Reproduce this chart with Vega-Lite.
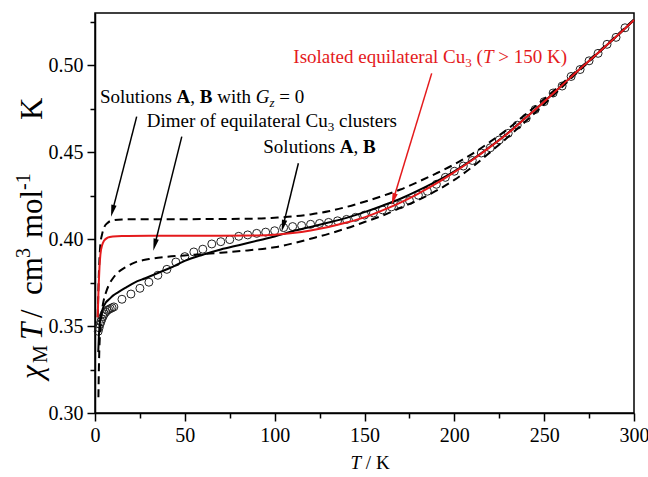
{
  "$schema": "https://vega.github.io/schema/vega-lite/v6.json",
  "width": 539,
  "height": 400,
  "autosize": "none",
  "padding": {"left": 95, "top": 13, "right": 14, "bottom": 64},
  "config": {
    "view": {"stroke": "black", "strokeWidth": 1.5},
    "font": "Liberation Serif",
    "axis": {"grid": false, "domainColor": "black", "domainWidth": 1.5, "tickColor": "black", "tickWidth": 1.5, "labelFont": "Liberation Serif", "labelFontSize": 20, "labelColor": "black", "labelOverlap": false, "labelFlush": false, "labelBound": false, "title": null}
  },
  "datasets": {
    "exp": [
      {"T": 1.8, "chi": 0.347}, {"T": 2.3, "chi": 0.349}, {"T": 2.8, "chi": 0.351}, {"T": 3.3, "chi": 0.3525}, {"T": 3.8, "chi": 0.354}, {"T": 4.5, "chi": 0.3555}, {"T": 5.2, "chi": 0.357}, {"T": 6.0, "chi": 0.358}, {"T": 6.8, "chi": 0.359}, {"T": 7.6, "chi": 0.3595}, {"T": 8.5, "chi": 0.36}, {"T": 9.5, "chi": 0.3605}, {"T": 10.5, "chi": 0.361},
      {"T": 15, "chi": 0.3654}, {"T": 20, "chi": 0.3684}, {"T": 25, "chi": 0.3717}, {"T": 30, "chi": 0.3752}, {"T": 35, "chi": 0.3792}, {"T": 40, "chi": 0.3826}, {"T": 45, "chi": 0.3868}, {"T": 50, "chi": 0.3899}, {"T": 55, "chi": 0.3926}, {"T": 60, "chi": 0.3942}, {"T": 65, "chi": 0.3972}, {"T": 70, "chi": 0.3985}, {"T": 75, "chi": 0.3997}, {"T": 80, "chi": 0.4016}, {"T": 85, "chi": 0.4024}, {"T": 90, "chi": 0.4033}, {"T": 95, "chi": 0.404}, {"T": 100, "chi": 0.4048},
      {"T": 105, "chi": 0.4066}, {"T": 110, "chi": 0.4072}, {"T": 115, "chi": 0.4078}, {"T": 120, "chi": 0.4085}, {"T": 125, "chi": 0.409}, {"T": 130, "chi": 0.4096}, {"T": 135, "chi": 0.4105}, {"T": 140, "chi": 0.4113}, {"T": 145, "chi": 0.4125}, {"T": 150, "chi": 0.4138}, {"T": 155, "chi": 0.415}, {"T": 160, "chi": 0.4168}, {"T": 165, "chi": 0.4185}, {"T": 170, "chi": 0.4198}, {"T": 175, "chi": 0.4222}, {"T": 180, "chi": 0.4252}, {"T": 185, "chi": 0.4275}, {"T": 190, "chi": 0.4315}, {"T": 195, "chi": 0.4355}, {"T": 200, "chi": 0.439},
      {"T": 205, "chi": 0.442}, {"T": 210, "chi": 0.4452}, {"T": 215, "chi": 0.4495}, {"T": 220, "chi": 0.4525}, {"T": 225, "chi": 0.457}, {"T": 230, "chi": 0.4608}, {"T": 235, "chi": 0.4655}, {"T": 240, "chi": 0.4695}, {"T": 245, "chi": 0.4745}, {"T": 250, "chi": 0.479}, {"T": 255, "chi": 0.484}, {"T": 260, "chi": 0.488}, {"T": 265, "chi": 0.4935}, {"T": 270, "chi": 0.4975}, {"T": 275, "chi": 0.5025}, {"T": 280, "chi": 0.5068}, {"T": 285, "chi": 0.512}, {"T": 290, "chi": 0.516}, {"T": 295, "chi": 0.5215}
    ],
    "curves": [
      {"s": "AB", "T": 1.8, "chi": 0.335}, {"s": "AB", "T": 2.2, "chi": 0.345}, {"s": "AB", "T": 2.7, "chi": 0.352}, {"s": "AB", "T": 3.5, "chi": 0.357}, {"s": "AB", "T": 4.5, "chi": 0.3605}, {"s": "AB", "T": 6, "chi": 0.3635}, {"s": "AB", "T": 8, "chi": 0.3655}, {"s": "AB", "T": 10, "chi": 0.3675}, {"s": "AB", "T": 13, "chi": 0.3695}, {"s": "AB", "T": 17, "chi": 0.372}, {"s": "AB", "T": 22, "chi": 0.375}, {"s": "AB", "T": 28, "chi": 0.3775}, {"s": "AB", "T": 35, "chi": 0.3805}, {"s": "AB", "T": 42, "chi": 0.3835}, {"s": "AB", "T": 50, "chi": 0.3875}, {"s": "AB", "T": 60, "chi": 0.391}, {"s": "AB", "T": 70, "chi": 0.394}, {"s": "AB", "T": 80, "chi": 0.3965}, {"s": "AB", "T": 90, "chi": 0.399}, {"s": "AB", "T": 100, "chi": 0.4015}, {"s": "AB", "T": 110, "chi": 0.4045}, {"s": "AB", "T": 120, "chi": 0.407}, {"s": "AB", "T": 130, "chi": 0.4095}, {"s": "AB", "T": 140, "chi": 0.4122}, {"s": "AB", "T": 150, "chi": 0.4155}, {"s": "AB", "T": 160, "chi": 0.4192}, {"s": "AB", "T": 170, "chi": 0.4232}, {"s": "AB", "T": 180, "chi": 0.428}, {"s": "AB", "T": 190, "chi": 0.4332}, {"s": "AB", "T": 200, "chi": 0.439}, {"s": "AB", "T": 210, "chi": 0.4457}, {"s": "AB", "T": 220, "chi": 0.4532}, {"s": "AB", "T": 230, "chi": 0.4612}, {"s": "AB", "T": 240, "chi": 0.47}, {"s": "AB", "T": 250, "chi": 0.479}, {"s": "AB", "T": 260, "chi": 0.4885}, {"s": "AB", "T": 270, "chi": 0.498}, {"s": "AB", "T": 280, "chi": 0.507}, {"s": "AB", "T": 290, "chi": 0.5163}, {"s": "AB", "T": 300, "chi": 0.526},
      {"s": "Gz0", "T": 1.5, "chi": 0.355}, {"s": "Gz0", "T": 2, "chi": 0.375}, {"s": "Gz0", "T": 2.5, "chi": 0.389}, {"s": "Gz0", "T": 3, "chi": 0.397}, {"s": "Gz0", "T": 4, "chi": 0.403}, {"s": "Gz0", "T": 5, "chi": 0.4065}, {"s": "Gz0", "T": 7, "chi": 0.4093}, {"s": "Gz0", "T": 10, "chi": 0.4108}, {"s": "Gz0", "T": 15, "chi": 0.4113}, {"s": "Gz0", "T": 30, "chi": 0.4114}, {"s": "Gz0", "T": 60, "chi": 0.4115}, {"s": "Gz0", "T": 90, "chi": 0.4118}, {"s": "Gz0", "T": 100, "chi": 0.4123}, {"s": "Gz0", "T": 110, "chi": 0.413}, {"s": "Gz0", "T": 120, "chi": 0.4142}, {"s": "Gz0", "T": 130, "chi": 0.416}, {"s": "Gz0", "T": 140, "chi": 0.4185}, {"s": "Gz0", "T": 150, "chi": 0.4215}, {"s": "Gz0", "T": 160, "chi": 0.4248}, {"s": "Gz0", "T": 170, "chi": 0.4285}, {"s": "Gz0", "T": 180, "chi": 0.433}, {"s": "Gz0", "T": 190, "chi": 0.4378}, {"s": "Gz0", "T": 200, "chi": 0.443}, {"s": "Gz0", "T": 210, "chi": 0.449}, {"s": "Gz0", "T": 220, "chi": 0.456}, {"s": "Gz0", "T": 230, "chi": 0.4635}, {"s": "Gz0", "T": 240, "chi": 0.472}, {"s": "Gz0", "T": 250, "chi": 0.4805}, {"s": "Gz0", "T": 260, "chi": 0.4895}, {"s": "Gz0", "T": 270, "chi": 0.4985}, {"s": "Gz0", "T": 280, "chi": 0.5075}, {"s": "Gz0", "T": 290, "chi": 0.5168}, {"s": "Gz0", "T": 300, "chi": 0.5263},
      {"s": "dimer", "T": 1.9, "chi": 0.309}, {"s": "dimer", "T": 2.1, "chi": 0.322}, {"s": "dimer", "T": 2.4, "chi": 0.336}, {"s": "dimer", "T": 2.8, "chi": 0.346}, {"s": "dimer", "T": 3.4, "chi": 0.354}, {"s": "dimer", "T": 4.1, "chi": 0.3605}, {"s": "dimer", "T": 5, "chi": 0.3655}, {"s": "dimer", "T": 6, "chi": 0.369}, {"s": "dimer", "T": 8, "chi": 0.3742}, {"s": "dimer", "T": 10, "chi": 0.3775}, {"s": "dimer", "T": 13, "chi": 0.381}, {"s": "dimer", "T": 17, "chi": 0.3838}, {"s": "dimer", "T": 22, "chi": 0.3865}, {"s": "dimer", "T": 30, "chi": 0.3885}, {"s": "dimer", "T": 40, "chi": 0.3898}, {"s": "dimer", "T": 55, "chi": 0.391}, {"s": "dimer", "T": 70, "chi": 0.3922}, {"s": "dimer", "T": 85, "chi": 0.3935}, {"s": "dimer", "T": 100, "chi": 0.3953}, {"s": "dimer", "T": 110, "chi": 0.3975}, {"s": "dimer", "T": 120, "chi": 0.4002}, {"s": "dimer", "T": 130, "chi": 0.403}, {"s": "dimer", "T": 140, "chi": 0.4062}, {"s": "dimer", "T": 150, "chi": 0.4098}, {"s": "dimer", "T": 160, "chi": 0.4135}, {"s": "dimer", "T": 170, "chi": 0.418}, {"s": "dimer", "T": 180, "chi": 0.4225}, {"s": "dimer", "T": 190, "chi": 0.4278}, {"s": "dimer", "T": 200, "chi": 0.434}, {"s": "dimer", "T": 210, "chi": 0.4415}, {"s": "dimer", "T": 220, "chi": 0.45}, {"s": "dimer", "T": 230, "chi": 0.4588}, {"s": "dimer", "T": 240, "chi": 0.468}, {"s": "dimer", "T": 250, "chi": 0.4775}, {"s": "dimer", "T": 260, "chi": 0.4875}, {"s": "dimer", "T": 270, "chi": 0.4973}, {"s": "dimer", "T": 280, "chi": 0.5068}, {"s": "dimer", "T": 290, "chi": 0.5163}, {"s": "dimer", "T": 300, "chi": 0.526},
      {"s": "iso", "T": 1.5, "chi": 0.355}, {"s": "iso", "T": 2, "chi": 0.372}, {"s": "iso", "T": 2.5, "chi": 0.384}, {"s": "iso", "T": 3, "chi": 0.391}, {"s": "iso", "T": 4, "chi": 0.3966}, {"s": "iso", "T": 5, "chi": 0.399}, {"s": "iso", "T": 7, "chi": 0.4008}, {"s": "iso", "T": 10, "chi": 0.4015}, {"s": "iso", "T": 15, "chi": 0.4018}, {"s": "iso", "T": 30, "chi": 0.4019}, {"s": "iso", "T": 60, "chi": 0.4019}, {"s": "iso", "T": 90, "chi": 0.4021}, {"s": "iso", "T": 100, "chi": 0.4025}, {"s": "iso", "T": 110, "chi": 0.4035}, {"s": "iso", "T": 120, "chi": 0.405}, {"s": "iso", "T": 130, "chi": 0.407}, {"s": "iso", "T": 140, "chi": 0.4095}, {"s": "iso", "T": 150, "chi": 0.4125}, {"s": "iso", "T": 160, "chi": 0.4165}, {"s": "iso", "T": 170, "chi": 0.421}, {"s": "iso", "T": 180, "chi": 0.4262}, {"s": "iso", "T": 190, "chi": 0.432}, {"s": "iso", "T": 200, "chi": 0.4385}, {"s": "iso", "T": 210, "chi": 0.4455}, {"s": "iso", "T": 220, "chi": 0.453}, {"s": "iso", "T": 230, "chi": 0.461}, {"s": "iso", "T": 240, "chi": 0.47}, {"s": "iso", "T": 250, "chi": 0.479}, {"s": "iso", "T": 260, "chi": 0.4885}, {"s": "iso", "T": 270, "chi": 0.498}, {"s": "iso", "T": 280, "chi": 0.507}, {"s": "iso", "T": 290, "chi": 0.5163}, {"s": "iso", "T": 300, "chi": 0.526}
    ],
    "arrows_black": [
      {"T": 23.2, "chi": 0.4704, "T2": 9.74, "chi2": 0.4162},
      {"T": 48.3, "chi": 0.4589, "T2": 33.26, "chi2": 0.3967},
      {"T": 113.2, "chi": 0.4436, "T2": 104.7, "chi2": 0.4076}
    ],
    "arrows_red": [
      {"T": 187.4, "chi": 0.4953, "T2": 166.1, "chi2": 0.4229}
    ],
    "lab_normal": [
      {"text": "Solutions", "T": 2.783, "chi": 0.47825},
      {"text": ",", "T": 53.03, "chi": 0.47825},
      {"text": "with", "T": 68.01, "chi": 0.47825},
      {"text": "= 0", "T": 102.55, "chi": 0.47825},
      {"text": "Dimer of equilateral Cu", "T": 28.78, "chi": 0.46462},
      {"text": "clusters", "T": 135.78, "chi": 0.46462},
      {"text": "Solutions", "T": 93.67, "chi": 0.44933},
      {"text": ",", "T": 143.92, "chi": 0.44933}
    ],
    "lab_bold": [
      {"text": "A", "T": 45.39, "chi": 0.47825},
      {"text": "B", "T": 58.31, "chi": 0.47825},
      {"text": "A", "T": 136.28, "chi": 0.44933},
      {"text": "B", "T": 149.2, "chi": 0.44933}
    ],
    "lab_italic": [
      {"text": "G", "T": 89.45, "chi": 0.47825}
    ],
    "lab_sub_italic": [
      {"text": "z", "T": 97.09, "chi": 0.4759}
    ],
    "lab_sub": [
      {"text": "3", "T": 129.52, "chi": 0.46232}
    ],
    "red_normal": [
      {"text": "Isolated equilateral Cu", "T": 110.37, "chi": 0.50108},
      {"text": "(", "T": 212.38, "chi": 0.50108},
      {"text": "> 150 K)", "T": 224.42, "chi": 0.50108}
    ],
    "red_italic": [
      {"text": "T", "T": 215.9, "chi": 0.50108}
    ],
    "red_sub": [
      {"text": "3", "T": 206.12, "chi": 0.49878}
    ],
    "xt_normal": [{"text": "/ K", "T": 150.75, "chi": 0.2678}],
    "xt_italic": [{"text": "T", "T": 142.2, "chi": 0.2678}],
    "yt_normal": [
      {"text": "/", "T": -29.5, "chi": 0.35462},
      {"text": "cm", "T": -29.5, "chi": 0.36785},
      {"text": "mol", "T": -29.5, "chi": 0.40062},
      {"text": "K", "T": -29.5, "chi": 0.46848}
    ],
    "yt_italic": [
      {"text": "χ", "T": -29.5, "chi": 0.31955},
      {"text": "T", "T": -29.5, "chi": 0.34198}
    ],
    "yt_sub": [
      {"text": "M", "T": -26.72, "chi": 0.32875}
    ],
    "yt_sup": [
      {"text": "3", "T": -36.18, "chi": 0.38913},
      {"text": "-1", "T": -36.18, "chi": 0.42822}
    ]
  },
  "encoding": {
    "x": {"field": "T", "type": "quantitative", "scale": {"domain": [0, 300], "nice": false, "zero": false},
      "axis": {"values": [0, 25, 50, 75, 100, 125, 150, 175, 200, 225, 250, 275, 300], "labelExpr": "datum.value % 50 === 0 ? datum.label : ''", "tickSize": {"condition": {"test": "datum.value % 50 !== 0", "value": 5}, "value": 8}, "labelPadding": 4}},
    "y": {"field": "chi", "type": "quantitative", "scale": {"domain": [0.3, 0.53], "nice": false, "zero": false},
      "axis": {"values": [0.3, 0.325, 0.35, 0.375, 0.4, 0.425, 0.45, 0.475, 0.5, 0.525], "labelExpr": "round(datum.value*1000) % 50 === 0 ? format(datum.value, '.2f') : ''", "tickSize": {"condition": {"test": "round(datum.value*1000) % 50 !== 0", "value": 5}, "value": 8}, "labelPadding": 4}}
  },
  "layer": [
    {"data": {"name": "exp"}, "mark": {"type": "point", "filled": false, "stroke": "#222", "strokeWidth": 1, "size": 64, "opacity": 1}},
    {"data": {"name": "curves"}, "transform": [{"filter": "datum.s === 'Gz0'"}], "mark": {"type": "line", "color": "black", "strokeWidth": 2, "strokeDash": [8, 5], "interpolate": "monotone"}},
    {"data": {"name": "curves"}, "transform": [{"filter": "datum.s === 'dimer'"}], "mark": {"type": "line", "color": "black", "strokeWidth": 2, "strokeDash": [8, 5], "interpolate": "monotone"}},
    {"data": {"name": "curves"}, "transform": [{"filter": "datum.s === 'AB'"}], "mark": {"type": "line", "color": "black", "strokeWidth": 2, "interpolate": "monotone"}},
    {"data": {"name": "curves"}, "transform": [{"filter": "datum.s === 'iso'"}], "mark": {"type": "line", "color": "#e41a1c", "strokeWidth": 2, "interpolate": "monotone"}},
    {"data": {"name": "arrows_black"}, "mark": {"type": "rule", "color": "black", "strokeWidth": 1.5}, "encoding": {"x2": {"field": "T2"}, "y2": {"field": "chi2"}}},
    {"data": {"name": "arrows_black"}, "mark": {"type": "point", "shape": "M0,-1L0.45,1L-0.45,1Z", "filled": true, "color": "black", "size": 144, "angle": 194, "opacity": 1}, "encoding": {"x": {"field": "T2", "type": "quantitative"}, "y": {"field": "chi2", "type": "quantitative"}}},
    {"data": {"name": "arrows_red"}, "mark": {"type": "rule", "color": "#e41a1c", "strokeWidth": 1.5}, "encoding": {"x2": {"field": "T2"}, "y2": {"field": "chi2"}}},
    {"data": {"name": "arrows_red"}, "mark": {"type": "point", "shape": "M0,-1L0.45,1L-0.45,1Z", "filled": true, "color": "#e41a1c", "size": 144, "angle": 197, "opacity": 1}, "encoding": {"x": {"field": "T2", "type": "quantitative"}, "y": {"field": "chi2", "type": "quantitative"}}},
    {"data": {"name": "lab_normal"}, "mark": {"type": "text", "align": "left", "baseline": "alphabetic", "fontSize": 19, "color": "black"}, "encoding": {"text": {"field": "text"}}},
    {"data": {"name": "lab_bold"}, "mark": {"type": "text", "align": "left", "baseline": "alphabetic", "fontSize": 19, "fontWeight": "bold", "color": "black"}, "encoding": {"text": {"field": "text"}}},
    {"data": {"name": "lab_italic"}, "mark": {"type": "text", "align": "left", "baseline": "alphabetic", "fontSize": 19, "fontStyle": "italic", "color": "black"}, "encoding": {"text": {"field": "text"}}},
    {"data": {"name": "lab_sub_italic"}, "mark": {"type": "text", "align": "left", "baseline": "alphabetic", "fontSize": 13, "fontStyle": "italic", "color": "black"}, "encoding": {"text": {"field": "text"}}},
    {"data": {"name": "lab_sub"}, "mark": {"type": "text", "align": "left", "baseline": "alphabetic", "fontSize": 13, "color": "black"}, "encoding": {"text": {"field": "text"}}},
    {"data": {"name": "red_normal"}, "mark": {"type": "text", "align": "left", "baseline": "alphabetic", "fontSize": 19, "color": "#e41a1c"}, "encoding": {"text": {"field": "text"}}},
    {"data": {"name": "red_italic"}, "mark": {"type": "text", "align": "left", "baseline": "alphabetic", "fontSize": 19, "fontStyle": "italic", "color": "#e41a1c"}, "encoding": {"text": {"field": "text"}}},
    {"data": {"name": "red_sub"}, "mark": {"type": "text", "align": "left", "baseline": "alphabetic", "fontSize": 13, "color": "#e41a1c"}, "encoding": {"text": {"field": "text"}}},
    {"data": {"name": "xt_normal"}, "mark": {"type": "text", "align": "left", "baseline": "alphabetic", "fontSize": 19, "color": "black"}, "encoding": {"text": {"field": "text"}}},
    {"data": {"name": "xt_italic"}, "mark": {"type": "text", "align": "left", "baseline": "alphabetic", "fontSize": 19, "fontStyle": "italic", "color": "black"}, "encoding": {"text": {"field": "text"}}},
    {"data": {"name": "yt_normal"}, "mark": {"type": "text", "align": "left", "baseline": "alphabetic", "fontSize": 31, "angle": 270, "color": "black"}, "encoding": {"text": {"field": "text"}}},
    {"data": {"name": "yt_italic"}, "mark": {"type": "text", "align": "left", "baseline": "alphabetic", "fontSize": 31, "angle": 270, "fontStyle": "italic", "color": "black"}, "encoding": {"text": {"field": "text"}}},
    {"data": {"name": "yt_sub"}, "mark": {"type": "text", "align": "left", "baseline": "alphabetic", "fontSize": 20, "angle": 270, "color": "black"}, "encoding": {"text": {"field": "text"}}},
    {"data": {"name": "yt_sup"}, "mark": {"type": "text", "align": "left", "baseline": "alphabetic", "fontSize": 20, "angle": 270, "color": "black"}, "encoding": {"text": {"field": "text"}}}
  ]
}
